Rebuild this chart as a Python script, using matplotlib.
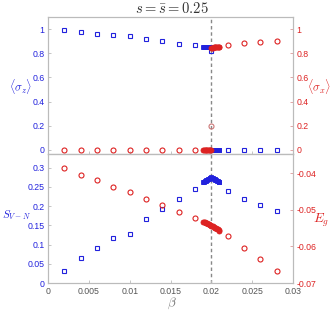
import numpy as np
import matplotlib
matplotlib.use("Agg")
import matplotlib.pyplot as plt

plt.rcParams['mathtext.fontset'] = 'cm'
plt.rcParams['font.family'] = ['Liberation Sans', 'DejaVu Sans']

BLUE = "#2222dd"
RED = "#dd2222"
GREY = "#888888"

# coarse grid
beta_lo = [0.002, 0.004, 0.006, 0.008, 0.010, 0.012, 0.014, 0.016, 0.018]
beta_hi = [0.022, 0.024, 0.026, 0.028]

sz_lo = [0.99, 0.975, 0.96, 0.95, 0.94, 0.92, 0.90, 0.88, 0.865]
sz_hi = [0.0, 0.0, 0.0, 0.0]
sx_lo = [0.0, 0.0, 0.0, 0.0, 0.0, 0.0, 0.0, 0.0, 0.0]
sx_hi = [0.87, 0.885, 0.895, 0.905]

S_lo = [0.030, 0.065, 0.092, 0.117, 0.127, 0.167, 0.192, 0.218, 0.243]
S_hi = [0.238, 0.218, 0.203, 0.188]
Eg_lo = [-0.0386, -0.0403, -0.0419, -0.0436, -0.0452, -0.047, -0.0486, -0.0505, -0.0523]
Eg_hi = [-0.0571, -0.0603, -0.0635, -0.0668]

# critical point
beta_c = 0.020
sz_c = 0.82
sx_c = 0.2

# dense scan near the transition
beta_d1 = [0.0190, 0.0191, 0.0192, 0.0193, 0.0194, 0.0195, 0.0196, 0.0197, 0.0198, 0.0199, 0.0200]
beta_d2 = [0.0200, 0.0201, 0.0202, 0.0203, 0.0204, 0.0205, 0.0206, 0.0207, 0.0208, 0.0209, 0.0210]
sz_d1 = [0.853, 0.852, 0.852, 0.851, 0.851, 0.850, 0.850, 0.849, 0.849, 0.848, 0.848]
sz_d2 = [0.0, 0.0, 0.0, 0.0, 0.0, 0.0, 0.0, 0.0, 0.0, 0.0, 0.0]
sx_d1 = [0.0, 0.0, 0.0, 0.0, 0.0, 0.0, 0.0, 0.0, 0.0, 0.0, 0.0]
sx_d2 = [0.845, 0.846, 0.847, 0.848, 0.849, 0.850, 0.851, 0.852, 0.853, 0.854, 0.855]
beta_d = [0.0190, 0.0191, 0.0192, 0.0193, 0.0194, 0.0195, 0.0196, 0.0197, 0.0198, 0.0199, 0.0200,
          0.0201, 0.0202, 0.0203, 0.0204, 0.0205, 0.0206, 0.0207, 0.0208, 0.0209, 0.0210]
S_d = [0.262, 0.263, 0.264, 0.266, 0.267, 0.268, 0.270, 0.271, 0.272, 0.274, 0.275,
       0.274, 0.272, 0.271, 0.270, 0.268, 0.267, 0.266, 0.264, 0.263, 0.262]
Eg_d = [-0.0532, -0.0533, -0.0534, -0.0535, -0.0536, -0.0537, -0.0538, -0.0539, -0.0541, -0.0542, -0.0543,
        -0.0544, -0.0545, -0.0546, -0.0548, -0.0549, -0.0550, -0.0552, -0.0553, -0.0555, -0.0557]

fig = plt.figure(figsize=(3.34, 3.10), dpi=100)
ax1 = fig.add_axes([0.144, 0.503, 0.733, 0.442])
ax2 = fig.add_axes([0.144, 0.087, 0.733, 0.416])
ax1r = ax1.twinx()
ax2r = ax2.twinx()

kw_sq = dict(marker='s', ls='none', mfc='none', ms=2.6, mew=0.8, color=BLUE)
kw_ci = dict(marker='o', ls='none', mfc='none', ms=3.6, mew=0.8, color=RED)
kw_sq_d = dict(marker='s', ls='none', ms=3.2, mew=0.6, color=BLUE)
kw_ci_d = dict(marker='o', ls='none', ms=3.6, mew=0.6, color=RED)

# top panel
ax1.plot(beta_lo, sz_lo, **kw_sq)
ax1.plot(beta_hi, sz_hi, **kw_sq)
ax1.plot(beta_d1, sz_d1, **kw_sq_d)
ax1.plot(beta_d2, sz_d2, **kw_sq_d)
ax1.plot([beta_c], [sz_c], **kw_sq)
ax1r.plot(beta_lo, sx_lo, **kw_ci)
ax1r.plot(beta_hi, sx_hi, **kw_ci)
ax1r.plot(beta_d1, sx_d1, **kw_ci_d)
ax1r.plot(beta_d2, sx_d2, **kw_ci_d)
ax1r.plot([beta_c], [sx_c], marker='o', ls='none', mfc='none', ms=3.6, mew=0.8, color="#cc7777")

# bottom panel
ax2.plot(beta_lo, S_lo, **kw_sq)
ax2.plot(beta_hi, S_hi, **kw_sq)
ax2.plot(beta_d, S_d, **kw_sq_d)
ax2r.plot(beta_lo, Eg_lo, **kw_ci)
ax2r.plot(beta_hi, Eg_hi, **kw_ci)
ax2r.plot(beta_d, Eg_d, **kw_ci_d)

for ax in (ax1, ax2):
    ax.axvline(beta_c, color=GREY, ls=(0, (2.5, 2)), lw=1, zorder=0)
    ax.set_xlim(0, 0.03)
    ax.set_xticks([0, 0.005, 0.01, 0.015, 0.02, 0.025, 0.03])

ax1.set_ylim(-0.035, 1.1)
ax1r.set_ylim(-0.035, 1.1)
ax1.set_yticks([0, 0.2, 0.4, 0.6, 0.8, 1])
ax1r.set_yticks([0, 0.2, 0.4, 0.6, 0.8, 1])
ax1.set_yticklabels(['0', '0.2', '0.4', '0.6', '0.8', '1'])
ax1r.set_yticklabels(['0', '0.2', '0.4', '0.6', '0.8', '1'])
ax1.tick_params(axis='x', labelbottom=False)

ax2.set_ylim(0, 0.335)
ax2.set_yticks([0, 0.05, 0.1, 0.15, 0.2, 0.25, 0.3])
ax2.set_yticklabels(['0', '0.05', '0.1', '0.15', '0.2', '0.25', '0.3'])
ax2r.set_ylim(-0.07, -0.0347)
ax2r.set_yticks([-0.07, -0.06, -0.05, -0.04])
ax2r.set_yticklabels(['-0.07', '-0.06', '-0.05', '-0.04'])
ax2.set_xticklabels(['0', '0.005', '0.01', '0.015', '0.02', '0.025', '0.03'])

for ax in (ax1, ax2, ax1r, ax2r):
    for sp in ax.spines.values():
        sp.set_color("#bbbbbb")
        sp.set_linewidth(0.8)
    ax.tick_params(direction='in', length=2.5, width=0.6, labelsize=6.3, pad=2.5)

for ax in (ax1, ax2):
    ax.tick_params(axis='y', color="#bbbbbb", labelcolor=BLUE)
    ax.tick_params(axis='x', color="#bbbbbb", labelcolor="#555555")
for ax in (ax1r, ax2r):
    ax.tick_params(axis='y', color="#dd9999", labelcolor=RED)

fig.text(0.062, 0.72, r'$\langle\sigma_z\rangle$', color=BLUE, fontsize=8.5, ha='center', va='center')
fig.text(0.955, 0.72, r'$\langle\sigma_x\rangle$', color=RED, fontsize=8.5, ha='center', va='center')
fig.text(0.05, 0.305, r'$S_{V-N}$', color=BLUE, fontsize=8, ha='center', va='center')
fig.text(0.962, 0.29, r'$E_g$', color=RED, fontsize=9.5, ha='center', va='center')
fig.text(0.515, 0.022, r'$\beta$', color="#777777", fontsize=9.5, ha='center', va='center')
fig.text(0.515, 0.972, r'$s = \bar{s} = 0.25$', color="#333333", fontsize=10.5, ha='center', va='center')

fig.savefig("out.png", dpi=100)
